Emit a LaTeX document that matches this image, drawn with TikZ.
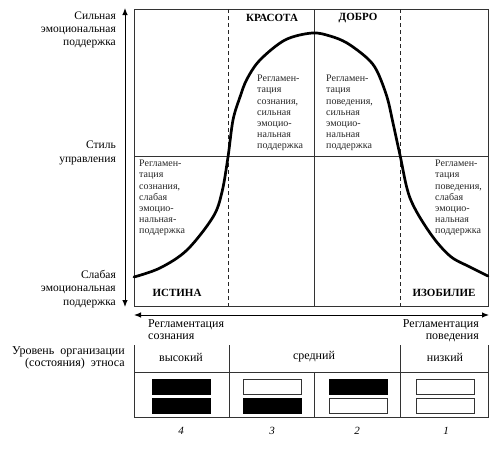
\documentclass[tikz,border=0pt]{standalone}
\usepackage{fontspec}
\setmainfont{Liberation Serif}
\usetikzlibrary{arrows.meta}
\begin{document}
\begin{tikzpicture}[x=1pt,y=-1pt,
  frame/.style={draw=black!80, line width=0.8pt},
  dashline/.style={draw=black!85, line width=0.8pt, dash pattern=on 4pt off 3pt},
  axis/.style={draw=black, line width=1pt, -{Latex[length=7pt,width=5.5pt]}},
  sidelab/.style={align=right, font=\fontsize{11.5}{13.3}\selectfont, inner sep=0pt},
  botlab/.style={font=\fontsize{12}{12.5}\selectfont, inner sep=0pt},
  celltext/.style={align=left, font=\fontsize{10}{11.2}\selectfont, inner sep=0pt, anchor=north west, text=black!85},
  head/.style={font=\fontsize{11}{12}\selectfont\bfseries, inner sep=0pt},
  lvl/.style={font=\fontsize{12}{13}\selectfont, inner sep=0pt},
  num/.style={font=\fontsize{11}{12}\selectfont\itshape, inner sep=0pt},
  fullbar/.style={fill=black, draw=black, line width=0.6pt},
  emptybar/.style={fill=white, draw=black!80, line width=0.8pt},
  curve/.style={line width=2.7pt, line join=round, line cap=round}]
\useasboundingbox (0,0) rectangle (504,451);
% main frame
\draw[frame] (134,9) rectangle (488,306);
\draw[frame] (134,156) -- (488,156);
\draw[frame] (314,9) -- (314,306);
\draw[dashline] (228,9) -- (228,306);
\draw[dashline] (400,9) -- (400,306);
% vertical axis
\coordinate (vm) at (125,156);
\coordinate (vt) at (125,8);
\coordinate (vb) at (125,307);
\draw[axis] (vm) -- (vt);
\draw[axis] (vm) -- (vb);
% horizontal axis
\coordinate (hm) at (311,315);
\coordinate (hl) at (134,315);
\coordinate (hr) at (489,315);
\draw[axis] (hm) -- (hl);
\draw[axis] (hm) -- (hr);
% curve
\draw[curve] plot[smooth, tension=0.55] coordinates {(134,277) (160,268) (187,250) (213,217) (222,192) (228,157) (233,120) (240,97) (247,79) (260,60) (285,40) (312,33) (330,36) (347,43) (367,58) (377,71) (387,97) (393,123) (400,155) (410,198) (430,233) (450,256) (470,267) (488,276)};
% side labels
\node[sidelab, anchor=east] (strong) at (116,30) {Сильная\\эмоциональная\\поддержка};
\node[sidelab, anchor=east] (style) at (116,153) {Стиль\\управления};
\node[sidelab, anchor=east] (weak) at (116,289) {Слабая\\эмоциональная\\поддержка};
% headers
\node[head] (kras) at (272,18) {КРАСОТА};
\node[head] (dobro) at (358,18) {ДОБРО};
\node[head] (ist) at (177,293) {ИСТИНА};
\node[head] (izob) at (444,293) {ИЗОБИЛИЕ};
% cell texts
\node[celltext] (c1) at (257,75) {Регламен-\\тация\\сознания,\\сильная\\эмоцио-\\нальная\\поддержка};
\node[celltext] (c2) at (326,75) {Регламен-\\тация\\поведения,\\сильная\\эмоцио-\\нальная\\поддержка};
\node[celltext] (c3) at (139,160) {Регламен-\\тация\\сознания,\\слабая\\эмоцио-\\нальная-\\поддержка};
\node[celltext] (c4) at (435,160) {Регламен-\\тация\\поведения,\\слабая\\эмоцио-\\нальная\\поддержка};
% axis labels
\node[botlab, align=left, anchor=north west] (rs) at (148,319) {Регламентация\\сознания};
\node[botlab, align=right, anchor=north east] (rp) at (479,319) {Регламентация\\поведения};
% bottom table
\node[botlab, anchor=east, align=right] (lev) at (125,358) {Уровень\ \ организации\\(состояния)\ \ этноса};
\draw[frame] (134,345) -- (134,417) -- (488,417) -- (488,345);
\draw[frame] (134,372) -- (488,372);
\draw[frame] (229,345) -- (229,417);
\draw[frame] (400,345) -- (400,417);
\draw[frame] (314,372) -- (314,417);
\node[lvl] (hi) at (181,357) {высокий};
\node[lvl] (mid) at (314,357) {средний};
\node[lvl] (lo) at (445,357) {низкий};
% bars
\draw[fullbar] (152,379) rectangle (210,394);
\draw[fullbar] (152,398) rectangle (210,413);
\draw[emptybar] (243,379) rectangle (301,394);
\draw[fullbar] (243,398) rectangle (301,413);
\draw[fullbar] (329,379) rectangle (387,394);
\draw[emptybar] (329,398) rectangle (387,413);
\draw[emptybar] (416,379) rectangle (474,394);
\draw[emptybar] (416,398) rectangle (474,413);
% numbers
\node[num] (n4) at (181,431) {4};
\node[num] (n3) at (272,431) {3};
\node[num] (n2) at (357,431) {2};
\node[num] (n1) at (446,431) {1};
\end{tikzpicture}
\end{document}
